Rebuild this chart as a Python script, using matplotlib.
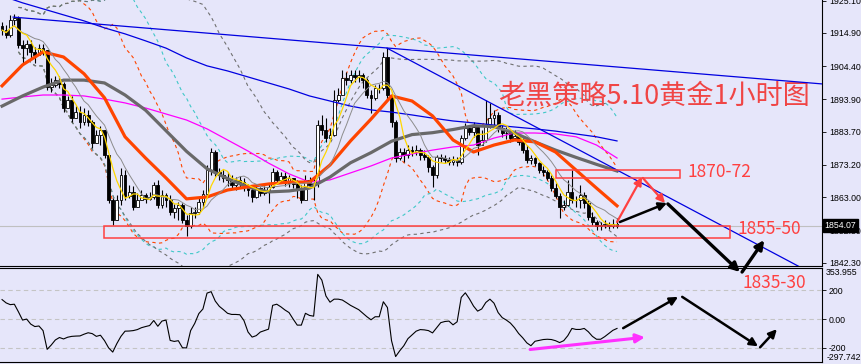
import numpy as np
import pandas as pd
import matplotlib
matplotlib.use("Agg")
import matplotlib.pyplot as plt
import matplotlib.transforms as mtransforms
from matplotlib.patches import Rectangle

plt.rcParams['font.family'] = ['Noto Sans CJK SC', 'DejaVu Sans']

# hourly gold candles
close = [
    1915.8, 1914.2, 1919.0, 1919.6, 1911.1, 1910.1, 1911.4, 1908.9, 1907.9, 1910.1,
    1909.5, 1897.8, 1898.5, 1900.0, 1898.8, 1891.2, 1893.7, 1888.0, 1889.9, 1886.8,
    1889.0, 1886.8, 1880.2, 1882.7, 1884.3, 1876.4, 1862.2, 1855.8, 1862.2, 1870.0,
    1863.4, 1864.7, 1859.9, 1862.2, 1863.7, 1862.5, 1863.1, 1866.9, 1860.6, 1863.7,
    1862.2, 1858.4, 1859.6, 1860.6, 1855.8, 1854.0, 1858.1, 1858.4, 1861.5, 1864.1,
    1871.6, 1877.3, 1871.0, 1870.0, 1869.1, 1868.5, 1866.9, 1868.5, 1867.8, 1866.3,
    1865.3, 1863.1, 1865.9, 1864.4, 1865.3, 1866.3, 1871.0, 1868.5, 1869.7, 1867.5,
    1869.1, 1867.2, 1865.3, 1862.2, 1868.5, 1866.9, 1867.5, 1885.8, 1884.3, 1881.7,
    1882.7, 1893.7, 1895.3, 1900.7, 1900.0, 1901.6, 1901.0, 1901.6, 1900.0, 1895.3,
    1894.4, 1897.5, 1897.5, 1907.3, 1895.3, 1886.8, 1875.4, 1877.3, 1876.4, 1877.9,
    1877.3, 1877.9, 1876.4, 1875.7, 1872.6, 1870.0, 1875.7, 1875.4, 1874.8, 1874.2,
    1874.8, 1874.2, 1881.7, 1884.9, 1883.6, 1885.2, 1879.5, 1881.1, 1885.8, 1888.0,
    1889.0, 1884.9, 1883.3, 1883.3, 1881.7, 1882.4, 1880.5, 1877.9, 1874.8, 1875.4,
    1873.8, 1871.6, 1871.0, 1869.1, 1865.9, 1863.4, 1859.9, 1860.6, 1864.7, 1862.2,
    1862.2, 1863.7, 1861.2, 1856.8, 1855.2, 1854.0, 1854.3, 1854.6, 1854.0, 1854.6,
    1854.07,
]
high = [
    1918.4, 1917.4, 1920.6, 1920.9, 1920.2, 1912.7, 1912.7, 1912.7, 1910.5, 1911.4,
    1911.4, 1909.5, 1900.7, 1901.3, 1901.3, 1899.4, 1895.0, 1895.0, 1891.8, 1891.8,
    1891.2, 1890.6, 1887.4, 1884.3, 1885.5, 1883.3, 1876.4, 1862.8, 1863.7, 1872.3,
    1871.6, 1866.9, 1866.6, 1864.4, 1865.3, 1864.4, 1864.7, 1867.8, 1868.5, 1865.3,
    1864.4, 1863.7, 1860.9, 1861.5, 1861.2, 1857.4, 1859.9, 1859.9, 1862.8, 1865.3,
    1873.2, 1878.6, 1877.9, 1872.3, 1871.6, 1871.0, 1870.0, 1869.4, 1869.7, 1869.1,
    1867.2, 1866.6, 1866.9, 1866.3, 1866.6, 1867.5, 1872.3, 1871.6, 1871.0, 1871.0,
    1870.0, 1869.1, 1868.5, 1866.9, 1870.0, 1869.4, 1869.4, 1887.4, 1889.0, 1888.0,
    1884.9, 1896.9, 1897.5, 1903.2, 1902.6, 1903.2, 1903.2, 1903.2, 1902.3, 1900.7,
    1896.9, 1898.5, 1898.8, 1908.9, 1910.1, 1895.9, 1887.4, 1878.6, 1878.6, 1879.5,
    1879.2, 1879.5, 1878.6, 1877.9, 1876.4, 1873.2, 1876.4, 1876.7, 1876.4, 1875.7,
    1876.1, 1875.7, 1882.7, 1886.5, 1885.8, 1886.8, 1885.8, 1884.3, 1893.7, 1892.8,
    1890.6, 1889.9, 1885.8, 1885.2, 1884.3, 1884.3, 1882.7, 1881.7, 1879.5, 1876.4,
    1875.7, 1874.2, 1872.9, 1871.6, 1870.0, 1867.5, 1864.4, 1862.2, 1868.5, 1871.6,
    1863.4, 1866.9, 1864.7, 1862.2, 1858.4, 1855.8, 1855.2, 1855.8, 1855.2, 1856.1,
    1856.5,
]
low = [
    1914.2, 1913.3, 1913.6, 1917.4, 1910.1, 1905.4, 1907.9, 1907.0, 1905.4, 1907.9,
    1907.9, 1896.9, 1896.3, 1897.8, 1897.5, 1889.9, 1891.8, 1886.8, 1888.0, 1884.9,
    1885.8, 1885.5, 1878.6, 1880.2, 1879.5, 1875.4, 1861.2, 1854.3, 1857.4, 1860.6,
    1862.2, 1862.8, 1859.0, 1859.9, 1862.2, 1861.2, 1862.2, 1862.5, 1859.6, 1859.6,
    1859.9, 1857.4, 1856.5, 1855.8, 1854.9, 1850.8, 1853.3, 1856.5, 1857.7, 1859.6,
    1863.4, 1870.0, 1869.7, 1868.5, 1867.8, 1866.6, 1865.9, 1865.3, 1865.9, 1865.0,
    1863.4, 1861.5, 1862.8, 1863.4, 1863.7, 1861.2, 1865.9, 1867.2, 1867.8, 1866.6,
    1866.3, 1865.9, 1862.8, 1861.2, 1862.8, 1865.9, 1862.2, 1866.3, 1882.7, 1880.5,
    1881.1, 1882.4, 1893.1, 1895.3, 1898.5, 1899.1, 1899.4, 1899.4, 1897.5, 1894.4,
    1889.6, 1893.7, 1895.9, 1896.9, 1893.7, 1885.2, 1874.2, 1874.8, 1874.2, 1875.4,
    1876.1, 1876.4, 1874.8, 1874.8, 1871.0, 1866.3, 1869.1, 1874.2, 1873.8, 1873.2,
    1873.2, 1872.9, 1873.5, 1881.1, 1882.7, 1882.0, 1876.4, 1879.5, 1880.5, 1884.9,
    1885.8, 1883.6, 1882.0, 1881.4, 1880.5, 1881.1, 1879.5, 1877.0, 1873.8, 1873.5,
    1872.9, 1870.7, 1869.7, 1868.5, 1865.0, 1862.8, 1856.5, 1859.0, 1860.3, 1861.2,
    1859.9, 1859.6, 1859.6, 1855.8, 1854.3, 1852.7, 1852.7, 1853.3, 1853.0, 1853.3,
    1853.3,
]
first_open = 1917.0

# CCI sub-window
cci = [
    135, 112, 100, 103, 50, -7, 0, -35, -52, -48,
    -80, -210, -180, -145, -128, -138, -126, -120, -118, -117,
    -105, -95, -101, -120, -112, -150, -200, -229, -170, -120,
    -84, -83, -80, -73, -60, -52, -45, -10, -50, -14,
    -7, -148, -155, -150, -199, -200, -80, -30, 38, 70,
    180, 190, 125, 88, 65, 40, 32, 32, 30, -10,
    -90, -125, -115, -90, -80, -70, 95, 103, 85, 63,
    45, 0, -42, -42, 40, 25, 20, 310, 270, 160,
    117, 138, 138, 132, 114, 95, 80, 65, 40, 16,
    -5, 16, 16, 120, 80, -150, -260, -220, -185, -136,
    -110, -84, -73, -75, -80, -96, -60, -25, -17, -14,
    -40, -19, 150, 182, 140, 90, 55, 70, 115, 138,
    110, 45, 10, -7, -28, -60, -100, -130, -165, -185,
    -154, -148, -142, -140, -142, -150, -163, -150, -115, -65,
    -72, -72, -65, -88, -120, -140, -140, -122, -100, -78,
    -65,
]
cci_min, cci_max = -297.742, 353.955

# longer moving averages, read every 5 bars
ma_bar = list(range(0, 151, 5))
ma_orange = [1898.2, 1904.8, 1908.9, 1907.3, 1902.0, 1894.4, 1882.1, 1875.4, 1869.1, 1862.5,
             1863.1, 1865.3, 1866.3, 1867.2, 1867.8, 1867.8, 1873.2, 1880.8, 1887.7, 1895.0,
             1893.4, 1888.7, 1881.1, 1877.3, 1879.5, 1881.1, 1880.5, 1877.3, 1871.6, 1865.9,
             1860.3]
ma_gray = [1891.8, 1895.0, 1897.8, 1900.0, 1900.0, 1899.1, 1895.3, 1890.5, 1884.0, 1877.5,
           1872.0, 1868.9, 1866.2, 1864.7, 1865.0, 1865.9, 1869.4, 1873.9, 1877.1, 1880.7,
           1882.8, 1883.4, 1884.4, 1885.6, 1885.3, 1883.3, 1880.5, 1877.9, 1875.6, 1873.4,
           1871.3]
ma_magenta = [1894.0, 1894.7, 1895.3, 1895.3, 1895.0, 1894.0, 1892.8, 1891.2, 1889.3, 1887.4,
              1884.6, 1881.1, 1877.6, 1873.8, 1870.4, 1867.8, 1868.5, 1870.7, 1872.9, 1875.4,
              1876.7, 1877.9, 1878.9, 1879.5, 1881.7, 1883.3, 1883.3, 1883.0, 1882.1, 1879.5,
              1875.4]
ma_blue = [1926.6, 1924.4, 1922.5, 1920.6, 1918.7, 1916.5, 1914.6, 1912.4, 1910.1, 1907.0,
           1904.5, 1902.9, 1901.0, 1899.1, 1897.2, 1895.0, 1893.4, 1891.8, 1890.6, 1889.9,
           1889.0, 1888.0, 1887.1, 1886.5, 1885.8, 1885.2, 1884.6, 1883.9, 1883.0, 1882.1,
           1880.8]

# hand-drawn trendlines (bar, price)
trend_top = [(2.7, 1919.9), (200.0, 1898.8)]
trend_down = [(93.9, 1910.1), (194.6, 1841.0)]

price_ticks = [1925.10, 1914.90, 1904.40, 1893.90, 1883.70, 1873.20, 1863.00, 1852.50, 1842.30]
last_price = 1854.07
zone_up = (135.1, 165.4, 1869.1, 1871.6)
zone_dn = (24.9, 177.6, 1850.3, 1853.8)

bg = '#e6e6fa'
red = '#ff4040'

n = len(close)
x = np.arange(n)
c = np.array(close)
o = np.array([first_open] + close[:-1])
h = np.maximum(np.array(high), np.maximum(o, c))
l = np.minimum(np.array(low), np.minimum(o, c))
s = pd.Series(close)

fig = plt.figure(figsize=(8.62, 3.64), dpi=100, facecolor=bg)
ax = fig.add_axes([0, 0.2692, 0.9536, 0.7308])
ax2 = fig.add_axes([0, 0.0055, 0.9536, 0.2582])
for a in (ax, ax2):
    a.set_facecolor('none')
    a.set_xlim(-0.5, 200)
    a.set_xticks([])
    a.spines['left'].set_visible(False)
    for sp in ('right', 'bottom', 'top'):
        a.spines[sp].set_linewidth(0.8)
        a.spines[sp].set_color('black')
    a.yaxis.tick_right()
    a.tick_params(axis='y', length=3, width=0.6, pad=2, labelsize=6.3)
ax.spines['top'].set_visible(False)
ax.set_ylim(1841.3, 1925.3)

# bollinger-style dashed envelopes
for w, col in [(20, '#ff4500'), (30, '#40c8c8'), (50, '#707070')]:
    m = s.rolling(w, min_periods=5).mean()
    sd = s.rolling(w, min_periods=5).std()
    for band in (m + 2 * sd, m - 2 * sd):
        ax.plot(x, band, color=col, lw=0.8, dashes=(3, 3), zorder=2)

ax.axhline(last_price, color='#c0c0c0', lw=0.8, zorder=1)

# candles
ax.vlines(x, l, h, color='black', lw=0.8, zorder=3)
body_col = ['white' if cc >= oo else 'black' for oo, cc in zip(o, c)]
ax.bar(x, c - o, bottom=o, width=0.7, color=body_col, edgecolor='black',
       linewidth=0.6, zorder=4)

# moving averages
ax.plot(ma_bar, ma_blue, color='#0000e0', lw=0.9, zorder=5)
ax.plot(ma_bar, ma_magenta, color='#ff00ff', lw=0.9, zorder=5)
ax.plot(ma_bar, ma_gray, color='#696969', lw=2.3, zorder=5)
ax.plot(ma_bar, ma_orange, color='#ff4500', lw=2.3, zorder=6)
ax.plot(x, s.rolling(10, min_periods=1).mean(), color='#8c8c8c', lw=0.7, zorder=6)
ax.plot(x, s.rolling(5, min_periods=1).mean(), color='#ffd700', lw=0.9, zorder=7)

for line in (trend_top, trend_down):
    ax.plot([p[0] for p in line], [p[1] for p in line], color='#0000e0', lw=0.9, zorder=5)

for x0, x1, y0, y1 in (zone_up, zone_dn):
    ax.add_patch(Rectangle((x0, y0), x1 - x0, y1 - y0, fill=False,
                           edgecolor=red, lw=1.1, zorder=8))

ax.text(167.1, 1870.9, '1870-72', color=red, fontsize=12.5, va='center', ha='left')
ax.text(179.5, 1853.0, '1855-50', color=red, fontsize=12.5, va='center', ha='left')
ax.text(180.5, 1836.0, '1835-30', color=red, fontsize=12.5, va='center', ha='left')
ax.text(498 / 822, 1 - 96 / 266, '老黑策略5.10黄金1小时图', transform=ax.transAxes,
        color='#f04545', fontsize=19.5, va='center', ha='left')


def arrow(a, start, end, color, lw, scale):
    a.annotate('', xy=end, xytext=start, annotation_clip=False,
               arrowprops=dict(arrowstyle='-|>', color=color, lw=lw,
                               mutation_scale=scale, shrinkA=0, shrinkB=0,
                               clip_on=False), zorder=9)


arrow(ax, (150.0, 1855.2), (156.1, 1869.4), red, 1.6, 12)
arrow(ax, (156.3, 1869.1), (161.7, 1861.2), red, 1.6, 12)
arrow(ax, (150.7, 1855.2), (162.2, 1861.2), 'black', 1.8, 12)
arrow(ax, (162.4, 1860.9), (180.0, 1839.4), 'black', 2.4, 13)
arrow(ax, (180.5, 1839.4), (185.9, 1849.5), 'black', 2.4, 13)

ax.set_yticks(price_ticks)
ax.set_yticklabels([f'{v:.2f}' for v in price_ticks], family='Liberation Sans')
ax.text(1.003, last_price, f'{last_price:.2f}', color='white', fontsize=6.3,
        family='Liberation Sans', va='center', ha='left',
        transform=mtransforms.blended_transform_factory(ax.transAxes, ax.transData),
        bbox=dict(facecolor='black', edgecolor='black', pad=1.2), zorder=10)

# CCI panel
ax2.set_ylim(cci_min, cci_max)
for lev in (200, 0, -200):
    ax2.axhline(lev, color='#c4c4c4', lw=0.8, dashes=(4, 3), zorder=1)
ax2.plot(x, cci, color='black', lw=0.8, zorder=3)
ax2.set_yticks([200, 0, -200])
ax2.set_yticklabels(['200', '0.00', '-200'], family='Liberation Sans')
ax2.text(1.005, 1.0, f'{cci_max:.3f}', transform=ax2.transAxes, fontsize=6.3,
         family='Liberation Sans', va='top', ha='left')
ax2.text(1.005, 0.0, f'{cci_min:.3f}', transform=ax2.transAxes, fontsize=6.3,
         family='Liberation Sans', va='bottom', ha='left')

arrow(ax2, (151.5, -63), (164.9, 154), 'black', 1.8, 12)
arrow(ax2, (165.9, 154), (184.4, -189), 'black', 1.8, 12)
arrow(ax2, (184.9, -196), (189.0, -70), 'black', 1.8, 12)
arrow(ax2, (128.8, -211), (156.8, -126), '#ff30ff', 2.2, 13)

fig.savefig('out.png', dpi=100, facecolor=bg)
